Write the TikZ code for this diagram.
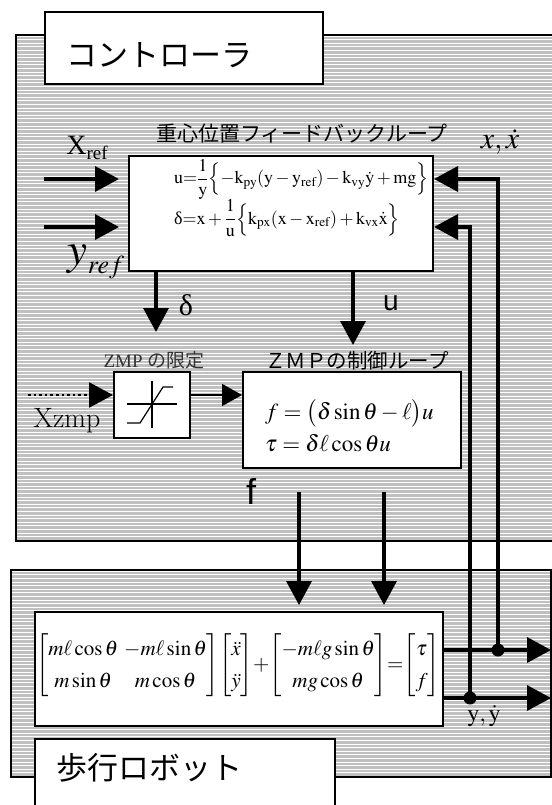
\documentclass[tikz,border=0pt]{standalone}
\usepackage{amsmath}
\usepackage{mathptmx}
\usepackage[no-math]{fontspec}
\renewcommand{\rmdefault}{lmr}
\newfontfamily\jpfont{Noto Sans CJK JP}
\newfontfamily\tmfont{Liberation Serif}
\newfontfamily\arfont{Liberation Sans}
\usetikzlibrary{arrows.meta,positioning,calc}
\definecolor{panelgray}{HTML}{C0C0C0}
\newcommand{\pxsize}[1]{\fontsize{#1}{#1}\selectfont}
\newcommand{\updelta}{\text{\tmfont δ}}
\tikzset{
  panel/.style={draw=black,line width=2.4pt,fill=panelgray,inner sep=0pt,
    path picture={
      \foreach \k in {0,...,150}{
        \draw[white,line width=1pt]
          ([yshift=-\k*3.6pt-1pt]path picture bounding box.north west) --
          ([yshift=-\k*3.6pt-1pt]path picture bounding box.north east);
      }}},
  titlebox/.style={draw=black,line width=1.8pt,fill=white,inner sep=0pt},
  block/.style={draw=black,line width=2pt,fill=white,inner sep=0pt},
  bigarrow/.style={-{Triangle[length=24pt,width=25pt]},line width=3.6pt},
  thinarrow/.style={-{Triangle[length=20pt,width=22pt]},line width=1.4pt},
  dotarrow/.style={-{Triangle[length=24pt,width=25pt]},line width=2.6pt,
    dash pattern=on 2.6pt off 3pt},
  jptitle/.style={font=\jpfont\pxsize{31},inner sep=0pt},
  jplabel/.style={font=\jpfont\pxsize{21},inner sep=0pt},
  sig/.style={inner sep=0pt}
}

\begin{document}
\begin{tikzpicture}[x=1pt,y=-1pt]
  \useasboundingbox (0,0) rectangle (551,805);

  % panels
  \node[panel,minimum width=547,minimum height=506,anchor=north west] (ctrl) at (15,34) {};
  \node[panel,minimum width=540,minimum height=207,anchor=north west] (robot) at (9.5,569) {};
  \node[titlebox,minimum width=278,minimum height=72,anchor=north west] (ctitle) at (44,11) {};
  \node[jptitle,anchor=west] (ctext) at (66,55) {コントローラ};
  \node[titlebox,minimum width=300,minimum height=100,anchor=north west] (rtitle) at (34,738) {};
  \node[jptitle,anchor=west] (rtext) at (56,768) {歩行ロボット};

  % feedback loop
  \node[block,minimum width=304,minimum height=115,anchor=north west] (fb) at (128,155) {};
  \node[jplabel] (fbtitle) at (302,134) {重心位置フィードバックループ};
  \node[sig,anchor=west,align=left,font=\pxsize{18}] (fbeq) at (174,198)
    {$\displaystyle \mathrm{u}{=}\frac{1}{\mathrm{y}}\Bigl\{{-}\mathrm{k}_{\mathrm{py}}(\mathrm{y}-\mathrm{y}_{\mathrm{ref}})-\mathrm{k}_{\mathrm{vy}}\dot{\mathrm{y}}+\mathrm{mg}\Bigr\}$\\[-1pt]
     $\displaystyle \updelta{=}\mathrm{x}+\frac{1}{\mathrm{u}}\Bigl\{\mathrm{k}_{\mathrm{px}}(\mathrm{x}-\mathrm{x}_{\mathrm{ref}})+\mathrm{k}_{\mathrm{vx}}\dot{\mathrm{x}}\Bigr\}$};

  % ZMP blocks
  \node[block,minimum width=76,minimum height=66,anchor=north west] (lim) at (113,371) {};
  \node[sig,font=\pxsize{19},text=black!80] (limtitle) at (154,360) {\tmfont ZMP {\jpfont の限定}};
  \begin{scope}[shift={(lim.center)},line width=1.2pt]
    \draw (0,-24) -- (0,23);
    \draw (-25,-1) -- (25,-1);
    \draw (-25,18) -- (-12,18) -- (11,-18) -- (21,-18);
  \end{scope}
  \node[block,minimum width=218,minimum height=96,anchor=north west] (zmpc) at (242,371) {};
  \node[jplabel,font=\jpfont\pxsize{20.5}] (zmpctitle) at (357,361) {ＺＭＰの制御ループ};
  \node[sig,anchor=west,align=left,font=\pxsize{23}] (zmpceq) at (265,426)
    {$f=\bigl(\delta\sin\theta-\ell\bigr)u$\\[6pt] $\tau=\delta\ell\cos\theta u$};

  % robot dynamics
  \node[block,minimum width=408,minimum height=114,anchor=north west] (dyn) at (34,611) {};
  \node[sig,font=\pxsize{21}] (dyneq) at (238,665)
    {\renewcommand{\arraystretch}{1.5}\setlength{\arraycolsep}{3pt}%
     $\begin{bmatrix} m\ell\cos\theta & -m\ell\sin\theta\\ m\sin\theta & m\cos\theta\end{bmatrix}\!\begin{bmatrix}\ddot{x}\\ \ddot{y}\end{bmatrix}\!{+}\!\begin{bmatrix}-m\ell g\sin\theta\\ mg\cos\theta\end{bmatrix}\!{=}\!\begin{bmatrix}\tau\\ f\end{bmatrix}$};

  % coordinates
  \coordinate (xrin) at (44,179);
  \coordinate (yrin) at (44,227);
  \coordinate (tapx) at (498,650);
  \coordinate (tapy) at (470,698);
  \coordinate (outx) at (551,650);
  \coordinate (outy) at (551,698);
  \coordinate (dtip) at (156,332);
  \coordinate (utip) at (353,345);
  \coordinate (zin) at (28,395);
  \coordinate (tauin) at (299,492);
  \coordinate (fin) at (384,492);

  % connectors
  \draw[bigarrow,shorten >=9pt] (xrin) -- (xrin -| fb.west);
  \draw[bigarrow,shorten >=9pt] (yrin) -- (yrin -| fb.west);
  \draw[bigarrow] (tapx) |- (fb.east |- xrin);
  \draw[bigarrow] (tapy) |- (fb.east |- yrin);
  \draw[bigarrow] (fb.south -| dtip) -- (dtip);
  \draw[bigarrow] (fb.south -| utip) -- (utip);
  \draw[dotarrow] (zin) -- (zin -| lim.west);
  \draw[thinarrow] (lim.east |- zin) -- (zmpc.west |- zin);
  \draw[bigarrow,shorten >=6pt] (tauin) -- (tauin |- dyn.north);
  \draw[bigarrow,shorten >=6pt] (fin) -- (fin |- dyn.north);
  \draw[bigarrow] (dyn.east |- outx) -- (outx);
  \draw[bigarrow] (dyn.east |- outy) -- (outy);
  \fill (tapx) circle (6.5);
  \fill (tapy) circle (6.5);

  % signal labels
  \node[sig,font=\tmfont] (xreflbl) at (87,148) {{\pxsize{28}X}\raisebox{-5pt}{\pxsize{19}ref}};
  \node[sig] (yreflbl) at (96,262) {{\pxsize{45}$y$}\raisebox{-9pt}{\pxsize{26}$ref$}};
  \node[sig,font=\pxsize{30}] (xdotlbl) at (500,142) {$x,\dot{x}$};
  \node[sig,font=\tmfont\pxsize{30}] (dlbl) at (186,305) {δ};
  \node[sig,font=\arfont\pxsize{28}] (ulbl) at (391,303) {u};
  \node[sig,font=\arfont\pxsize{36}] (flbl) at (251,491) {f};
  \node[sig,font=\pxsize{28}] (zlbl) at (67,421) {Xzmp};
  \node[sig,font=\pxsize{24}] (ydotlbl) at (484,716) {$\mathrm{y},\dot{\mathrm{y}}$};
\end{tikzpicture}
\end{document}
